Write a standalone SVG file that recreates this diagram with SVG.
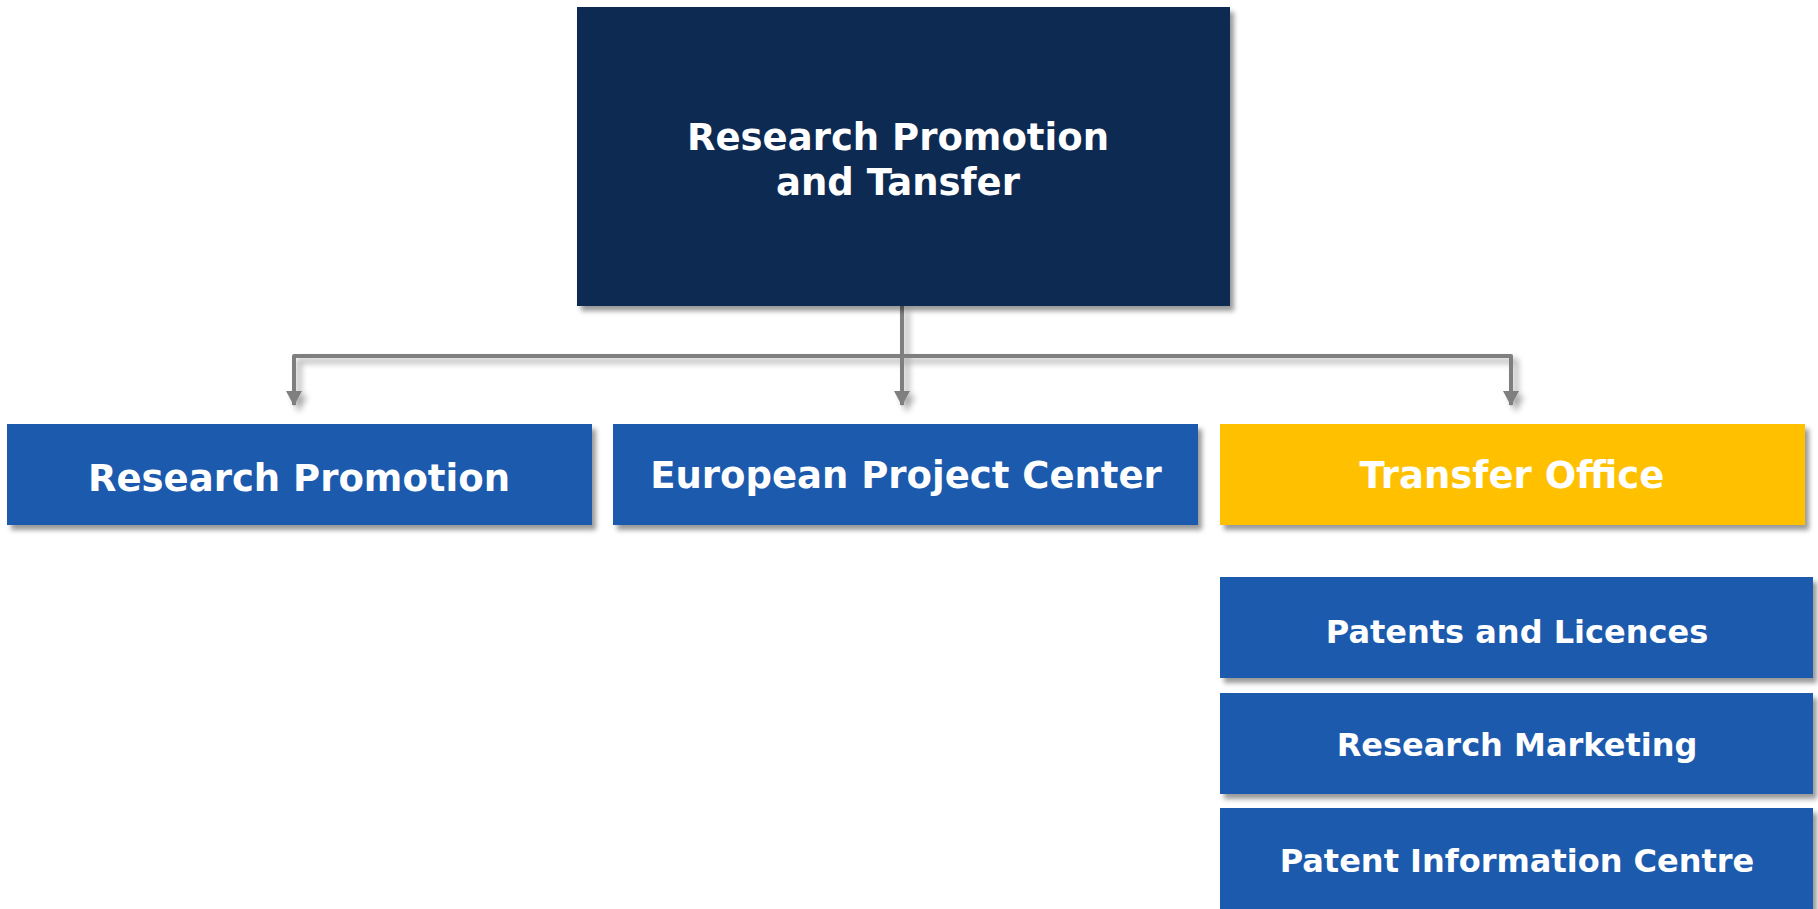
<svg xmlns="http://www.w3.org/2000/svg" width="1818" height="909" viewBox="0 0 1818 909">
<defs>
<filter id="sh" x="-5%" y="-10%" width="115%" height="130%">
<feDropShadow dx="4" dy="5" stdDeviation="2.5" flood-color="#000" flood-opacity="0.4"/>
</filter>
<filter id="shc" x="-5%" y="-20%" width="115%" height="150%">
<feDropShadow dx="5" dy="5" stdDeviation="3" flood-color="#000" flood-opacity="0.35"/>
</filter>
<marker id="arr" viewBox="0 0 15 16" refX="14" refY="8" markerWidth="15" markerHeight="16" markerUnits="userSpaceOnUse" orient="auto">
<path d="M0,0 L15,8 L0,16 Z" fill="#7f7f7f"/>
</marker>
</defs>
<style>
.t{font-family:"DejaVu Sans","Liberation Sans",sans-serif;font-weight:bold;fill:#fff;text-anchor:middle;}
.big{font-size:37px;}
.sm{font-size:32px;}
.navy{fill:#0c2a52;}
.blue{fill:#1a5aae;}
.gold{fill:#ffc000;}
.c{fill:none;stroke:#7f7f7f;stroke-width:4;stroke-linejoin:round;}
</style>
<rect width="1818" height="909" fill="#fff"/>
<g id="connectors" filter="url(#shc)">
<path class="c" d="M902,306 V356"/>
<path class="c" d="M294,405 V356 H1511 V405" marker-end="url(#arr)"/>
<path class="c" d="M294,356 V405" marker-end="url(#arr)"/>
<path class="c" d="M902,356 V405" marker-end="url(#arr)"/>
</g>
<g id="top">
<rect class="navy" x="577" y="7" width="653" height="299" filter="url(#sh)"/>
<text class="t big" x="898" y="150">Research Promotion</text>
<text class="t big" x="898" y="195">and Tansfer</text>
</g>
<g id="research-promotion">
<rect class="blue" x="7" y="424" width="585" height="101" filter="url(#sh)"/>
<text class="t big" x="299" y="491">Research Promotion</text>
</g>
<g id="european-project-center">
<rect class="blue" x="613" y="424" width="585" height="101" filter="url(#sh)"/>
<text class="t big" x="906" y="488">European Project Center</text>
</g>
<g id="transfer-office">
<rect class="gold" x="1220" y="424" width="585" height="101" filter="url(#sh)"/>
<text class="t big" x="1512" y="488">Transfer Office</text>
</g>
<g id="patents-licences">
<rect class="blue" x="1220" y="577" width="593" height="101" filter="url(#sh)"/>
<text class="t sm" x="1517" y="643">Patents and Licences</text>
</g>
<g id="research-marketing">
<rect class="blue" x="1220" y="693" width="593" height="101" filter="url(#sh)"/>
<text class="t sm" x="1517" y="756">Research Marketing</text>
</g>
<g id="patent-information-centre">
<rect class="blue" x="1220" y="808" width="593" height="101" filter="url(#sh)"/>
<text class="t sm" x="1517" y="872">Patent Information Centre</text>
</g>
</svg>
